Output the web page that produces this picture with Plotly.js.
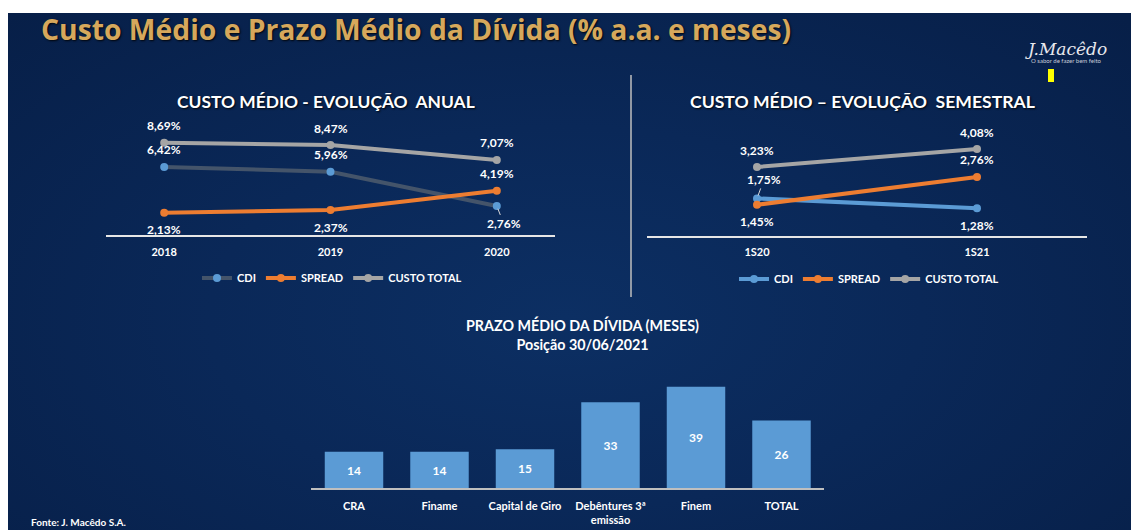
<!DOCTYPE html>
<html>
<head>
<meta charset="utf-8">
<script src="https://cdn.plot.ly/plotly-3.0.1.min.js"></script>
<style>
  html, body { margin: 0; padding: 0; background: #ffffff; }
  #chart {
    width: 1131px; height: 530px;
    background: radial-gradient(ellipse 70% 80% at 50% 60%, #0c2f63 0%, #0a2858 45%, #071f48 100%);
  }
</style>
</head>
<body>
<div id="chart"></div>
<script>
// ---------- DATA ----------
const annualCats = ['2018', '2019', '2020'];
const annualCDI = [6.42, 5.96, 2.76];
const annualSpread = [2.13, 2.37, 4.19];
const annualTotal = [8.69, 8.47, 7.07];

const semCats = ['1S20', '1S21'];
const semCDI = [1.75, 1.28];
const semSpread = [1.45, 2.76];
const semTotal = [3.23, 4.08];

const prazoCats = ['CRA', 'Finame', 'Capital de Giro', 'Debêntures 3ª<br>emissão', 'Finem', 'TOTAL'];
const prazoMeses = [14, 14, 15, 33, 39, 26];

const seriesNames = ['CDI', 'SPREAD', 'CUSTO TOTAL'];

// ---------- STYLE ----------
const W = 1131, H = 530;
const FONT = 'Lato, "Open Sans", sans-serif';
const WHITE = '#ffffff';
const BLUE = '#5b9bd5';
const SLATE = '#44546a';
const ORANGE = '#ed7d31';
const GRAY = '#a5a5a5';
const px = v => v / W;
const py = v => 1 - v / H;
const pct = v => v.toFixed(2).replace('.', ',') + '%';

function lineTrace(x, y, name, lineColor, markerColor, xa, ya, legend) {
  return {
    type: 'scatter', mode: 'lines+markers', x: x, y: y, name: name,
    xaxis: xa, yaxis: ya, legend: legend, showlegend: true,
    line: { color: lineColor, width: 4 },
    marker: { color: markerColor, size: 8, symbol: 'circle' },
    hoverinfo: 'x+y+name', cliponaxis: false
  };
}

const traces = [
  lineTrace(annualCats, annualCDI, seriesNames[0], SLATE, BLUE, 'x', 'y', 'legend'),
  lineTrace(annualCats, annualSpread, seriesNames[1], ORANGE, ORANGE, 'x', 'y', 'legend'),
  lineTrace(annualCats, annualTotal, seriesNames[2], GRAY, GRAY, 'x', 'y', 'legend'),
  lineTrace(semCats, semCDI, seriesNames[0], BLUE, BLUE, 'x2', 'y2', 'legend2'),
  lineTrace(semCats, semSpread, seriesNames[1], ORANGE, ORANGE, 'x2', 'y2', 'legend2'),
  lineTrace(semCats, semTotal, seriesNames[2], GRAY, GRAY, 'x2', 'y2', 'legend2'),
  {
    type: 'bar', x: prazoCats, y: prazoMeses, xaxis: 'x3', yaxis: 'y3', showlegend: false,
    marker: { color: BLUE, line: { width: 0 } },
    text: prazoMeses.map(String), textposition: 'inside', insidetextanchor: 'middle',
    textangle: 0,
    textfont: { family: FONT, size: 12, color: WHITE, weight: 700 },
    hoverinfo: 'x+y'
  }
];

// ---------- DATA LABELS (placement is style: -1 above, +1 below) ----------
const annots = [];
function addLabels(cats, vals, sides, xref, yref, special) {
  cats.forEach((c, i) => {
    const s = sides[i];
    const sp = special && special[i];
    const base = {
      x: i, y: vals[i], xref: xref, yref: yref, text: pct(vals[i]),
      font: { family: FONT, size: 12, color: WHITE, weight: 700 }
    };
    if (sp) {
      annots.push(Object.assign(base, {
        showarrow: true, arrowhead: 0, arrowwidth: 1, arrowcolor: '#d9d9d9',
        ax: sp[0], ay: sp[1], standoff: 3
      }));
    } else {
      annots.push(Object.assign(base, { showarrow: false, yshift: -s * 17 }));
    }
  });
}
addLabels(annualCats, annualTotal, [-1, -1, -1], 'x', 'y');
addLabels(annualCats, annualCDI, [-1, -1, 1], 'x', 'y', [null, null, [7, 18]]);
addLabels(annualCats, annualSpread, [1, 1, -1], 'x', 'y');
addLabels(semCats, semTotal, [-1, -1], 'x2', 'y2');
addLabels(semCats, semCDI, [-1, 1], 'x2', 'y2', [[7, -19], null]);
addLabels(semCats, semSpread, [1, -1], 'x2', 'y2');

const shadow = '1px 1px 2px rgba(0,0,0,0.85)';
// titles and static texts
annots.push(
  { xref: 'paper', yref: 'paper', x: px(39), y: py(29), xanchor: 'left', yanchor: 'middle', showarrow: false,
    text: 'Custo Médio e Prazo Médio da Dívida (% a.a. e meses)',
    font: { family: '"Open Sans", Lato, sans-serif', size: 28.3, color: '#d6a85c', weight: 700, shadow: shadow } },
  { xref: 'paper', yref: 'paper', x: px(326), y: py(102), xanchor: 'center', yanchor: 'middle', showarrow: false,
    text: 'CUSTO MÉDIO - EVOLUÇÃO\u00a0\u00a0ANUAL',
    font: { family: FONT, size: 17.4, color: WHITE, weight: 700, shadow: shadow } },
  { xref: 'paper', yref: 'paper', x: px(862), y: py(102), xanchor: 'center', yanchor: 'middle', showarrow: false,
    text: 'CUSTO MÉDIO – EVOLUÇÃO\u00a0\u00a0SEMESTRAL',
    font: { family: FONT, size: 17.6, color: WHITE, weight: 700, shadow: shadow } },
  { xref: 'paper', yref: 'paper', x: px(582), y: py(334), xanchor: 'center', yanchor: 'middle', showarrow: false,
    text: 'PRAZO MÉDIO DA DÍVIDA (MESES)<br>Posição 30/06/2021',
    font: { family: FONT, size: 14.3, color: WHITE, weight: 700 } },
  { xref: 'paper', yref: 'paper', x: px(29), y: 0, xanchor: 'left', yanchor: 'bottom', showarrow: false,
    text: 'Fonte: J. Macêdo S.A.',
    font: { family: FONT, size: 10, color: WHITE, weight: 700 } },
  { xref: 'paper', yref: 'paper', x: px(1066), y: py(49), xanchor: 'center', yanchor: 'middle', showarrow: false,
    text: 'J.Macêdo',
    font: { family: '"DejaVu Serif", serif', size: 17, color: '#e8e8ee', style: 'italic' } },
  { xref: 'paper', yref: 'paper', x: px(1066), y: py(61), xanchor: 'center', yanchor: 'middle', showarrow: false,
    text: 'O sabor de fazer bem feito',
    font: { family: FONT, size: 6, color: '#c8ccd8' } }
);

const shapes = [
  // white page strips
  { type: 'rect', xref: 'paper', yref: 'paper', x0: 0, x1: 1, y0: py(13), y1: 1, fillcolor: '#ffffff', line: { width: 0 }, layer: 'above' },
  { type: 'rect', xref: 'paper', yref: 'paper', x0: 0, x1: px(8), y0: 0, y1: 1, fillcolor: '#ffffff', line: { width: 0 }, layer: 'above' },
  // divider
  { type: 'line', xref: 'paper', yref: 'paper', x0: px(631), x1: px(631), y0: py(75), y1: py(297), line: { color: '#bfbfbf', width: 1.5 } },
  // logo yellow mark
  { type: 'rect', xref: 'paper', yref: 'paper', x0: px(1048), x1: px(1054), y0: py(82), y1: py(69), fillcolor: '#ffff00', line: { width: 0 } }
];

const hiddenY = { showgrid: false, zeroline: false, showticklabels: false, showline: false, fixedrange: true };
const tickFont = { family: FONT, size: 11, color: WHITE, weight: 700 };
const xBase = {
  type: 'category', showgrid: false, zeroline: false, showline: true,
  linewidth: 1.5, ticks: 'outside', ticklen: 6, tickcolor: 'rgba(0,0,0,0)',
  tickfont: tickFont, fixedrange: true
};

const legendBase = {
  orientation: 'h', bgcolor: 'rgba(0,0,0,0)', borderwidth: 0,
  font: { family: FONT, size: 11, color: WHITE, weight: 700 },
  xanchor: 'center', yanchor: 'middle', itemwidth: 30, itemclick: false, itemdoubleclick: false
};

const layout = {
  width: W, height: H,
  margin: { l: 0, r: 0, t: 0, b: 0, pad: 0 },
  paper_bgcolor: 'rgba(0,0,0,0)', plot_bgcolor: 'rgba(0,0,0,0)',
  font: { family: FONT, color: WHITE },
  showlegend: true,
  xaxis: Object.assign({}, xBase, { domain: [px(106), px(555)], range: [-0.35, 2.35], anchor: 'y', linecolor: '#e6e6e6' }),
  yaxis: Object.assign({}, hiddenY, { domain: [py(235.4), py(115)], range: [0, 120.4 / 10.67], anchor: 'x' }),
  xaxis2: Object.assign({}, xBase, { domain: [px(647), px(1087)], range: [-0.5, 1.5], anchor: 'y2', linecolor: '#e6e6e6' }),
  yaxis2: Object.assign({}, hiddenY, { domain: [py(235.5), py(115)], range: [0, 120.5 / 21.2], anchor: 'x2' }),
  xaxis3: Object.assign({}, xBase, { domain: [px(311.25), px(824.25)], range: [-0.5, 5.5], anchor: 'y3', linecolor: '#bfbfbf', linewidth: 2 }),
  yaxis3: Object.assign({}, hiddenY, { domain: [py(488.3), py(370)], range: [0, 118.3 / 2.605], anchor: 'x3' }),
  bargap: 0.316,
  legend: Object.assign({}, legendBase, { x: px(332), y: py(278) }),
  legend2: Object.assign({}, legendBase, { x: px(869), y: py(279) }),
  annotations: annots,
  shapes: shapes,
  hovermode: 'closest'
};

Plotly.newPlot('chart', traces, layout, { displayModeBar: false, responsive: false });
</script>
</body>
</html>
